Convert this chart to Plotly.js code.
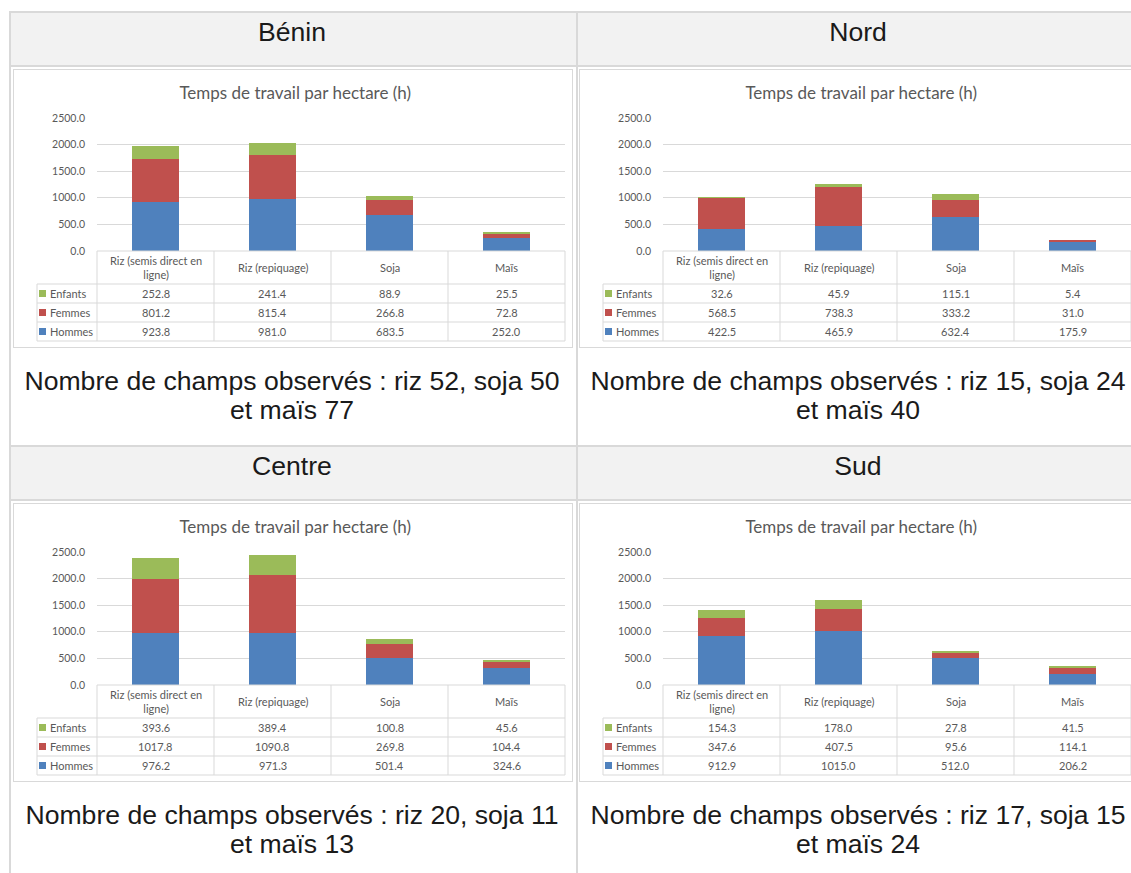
<!DOCTYPE html>
<html>
<head>
<meta charset="utf-8">
<script src="https://cdn.plot.ly/plotly-3.0.1.min.js"></script>
<style>
  html, body { margin:0; padding:0; background:#fff; }
  body { width:1131px; height:873px; overflow:hidden; position:relative; font-family:"Liberation Sans", Arial, sans-serif; }
  .ln { position:absolute; background:#d9d9d9; }
  .hdr { position:absolute; background:#f2f2f2; }
  .txt { position:absolute; text-align:center; color:#1a1a1a; font-size:26.6px; white-space:nowrap; transform:translateX(-50%); }
  .chart { position:absolute; width:560px; height:279px; box-sizing:border-box; border:1px solid #d9d9d9; background:#fff; }
</style>
</head>
<body>
<div class="hdr" style="left:11px;top:13px;width:1120px;height:52px"></div>
<div class="hdr" style="left:11px;top:447px;width:1120px;height:52px"></div>

<div class="ln" style="left:9px;top:11px;width:1122px;height:2px"></div>
<div class="ln" style="left:9px;top:11px;width:2px;height:862px"></div>
<div class="ln" style="left:576px;top:11px;width:2px;height:862px"></div>
<div class="ln" style="left:9px;top:65px;width:1122px;height:2px"></div>
<div class="ln" style="left:9px;top:445px;width:1122px;height:2px"></div>
<div class="ln" style="left:9px;top:499px;width:1122px;height:2px"></div>

<div class="txt" style="left:292px;top:17px;line-height:30px">Bénin</div>
<div class="txt" style="left:858px;top:17px;line-height:30px">Nord</div>
<div class="txt" style="left:292px;top:451px;line-height:30px">Centre</div>
<div class="txt" style="left:858px;top:451px;line-height:30px">Sud</div>

<div class="txt" style="left:292px;top:367px;line-height:29px">Nombre de champs observés : riz 52, soja 50<br>et maïs 77</div>
<div class="txt" style="left:858px;top:367px;line-height:29px">Nombre de champs observés : riz 15, soja 24<br>et maïs 40</div>
<div class="txt" style="left:292px;top:801px;line-height:29px">Nombre de champs observés : riz 20, soja 11<br>et maïs 13</div>
<div class="txt" style="left:858px;top:801px;line-height:29px">Nombre de champs observés : riz 17, soja 15<br>et maïs 24</div>

<div id="c_benin" class="chart" style="left:13px;top:69px"></div>
<div id="c_nord" class="chart" style="left:579px;top:69px"></div>
<div id="c_centre" class="chart" style="left:13px;top:503px"></div>
<div id="c_sud" class="chart" style="left:579px;top:503px"></div>

<script>
// ---- Data ----
const chartTitle = "Temps de travail par hectare (h)";
const categories = ["Riz (semis direct en ligne)", "Riz (repiquage)", "Soja", "Maïs"];
const categoryLabels = ["Riz (semis direct en<br>ligne)", "Riz (repiquage)", "Soja", "Maïs"];
const seriesNames = ["Hommes", "Femmes", "Enfants"];
const seriesColors = ["#4f81bd", "#c0504d", "#9bbb59"];
const yTicks = [0, 500, 1000, 1500, 2000, 2500];

const beninHommes = [923.8, 981.0, 683.5, 252.0];
const beninFemmes = [801.2, 815.4, 266.8, 72.8];
const beninEnfants = [252.8, 241.4, 88.9, 25.5];

const nordHommes = [422.5, 465.9, 632.4, 175.9];
const nordFemmes = [568.5, 738.3, 333.2, 31.0];
const nordEnfants = [32.6, 45.9, 115.1, 5.4];

const centreHommes = [976.2, 971.3, 501.4, 324.6];
const centreFemmes = [1017.8, 1090.8, 269.8, 104.4];
const centreEnfants = [393.6, 389.4, 100.8, 45.6];

const sudHommes = [912.9, 1015.0, 512.0, 206.2];
const sudFemmes = [347.6, 407.5, 95.6, 114.1];
const sudEnfants = [154.3, 178.0, 27.8, 41.5];

// ---- Drawing ----
const W = 560, H = 279;
const M = {l:84, r:8, t:49, b:97};
const PW = W - M.l - M.r;   // 468
const PH = H - M.t - M.b;   // 133
const FONT = "Lato, 'Open Sans', sans-serif";
const GRAY = "#595959";
const LINE = "#d9d9d9";

function py(d) { return -d / PH; }          // px below plot bottom -> paper y
function px(d) { return d / PW; }           // px from plot left -> paper x

function drawChart(id, hommes, femmes, enfants) {
  const series = [hommes, femmes, enfants];
  const traces = series.map((vals, i) => ({
    type: "bar", x: categories, y: vals, name: seriesNames[i],
    marker: {color: seriesColors[i], line: {width: 0}},
    hoverinfo: "skip"
  }));

  const hdrH = 33, rowH = 19;
  const rowTops = [hdrH, hdrH + rowH, hdrH + 2*rowH, hdrH + 3*rowH];
  const legLeft = px(-60);
  const shapes = [];
  const L = (x0, y0, x1, y1) => shapes.push({type:"line", xref:"paper", yref:"paper",
      x0, y0, x1, y1, line:{color:LINE, width:1}});
  L(0, py(0), 1, py(0));
  rowTops.forEach(d => L(legLeft, py(d), 1, py(d)));
  L(legLeft, py(hdrH), legLeft, py(rowTops[3]));
  for (let k = 0; k <= 4; k++) L(k/4, py(0), k/4, py(rowTops[3]));

  const ann = [];
  categoryLabels.forEach((lab, j) => ann.push({
    xref:"x", yref:"paper", x: j, y: py(hdrH/2), text: lab, showarrow:false,
    xanchor:"center", yanchor:"middle", font:{family:FONT, size:11, color:GRAY}
  }));
  const order = [2, 1, 0];
  order.forEach((si, r) => {
    const yc = py(rowTops[r] + rowH/2);
    shapes.push({type:"rect", xref:"paper", yref:"paper",
      x0: px(-58), x1: px(-51), y0: yc - 3.5/PH, y1: yc + 3.5/PH,
      fillcolor: seriesColors[si], line:{width:0}});
    ann.push({xref:"paper", yref:"paper", x: px(-49), y: yc, text: seriesNames[si],
      showarrow:false, xanchor:"left", yanchor:"middle",
      font:{family:FONT, size:11, color:GRAY}});
    series[si].forEach((v, j) => ann.push({
      xref:"x", yref:"paper", x: j, y: yc, text: v.toFixed(1), showarrow:false,
      xanchor:"center", yanchor:"middle", font:{family:FONT, size:11, color:GRAY}
    }));
  });

  const layout = {
    width: W - 2, height: H - 2,
    margin: {l:M.l - 1, r:M.r - 1, t:M.t - 1, b:M.b - 1, pad:0},
    paper_bgcolor: "rgba(0,0,0,0)", plot_bgcolor: "rgba(0,0,0,0)",
    barmode: "stack", bargap: 0.6, showlegend: false,
    title: {text: chartTitle, x: 0.504, xref:"container", xanchor:"center",
            y: 1 - 23/H, yref:"container", yanchor:"middle",
            font:{family:FONT, size:17, color:GRAY}},
    xaxis: {type:"category", range:[-0.5, 3.5], showticklabels:false, showgrid:false,
            zeroline:false, showline:false, ticks:"", fixedrange:true},
    yaxis: {range:[0, 2500], tickvals: yTicks, tickformat: ".1f", showgrid:true,
            gridcolor: LINE, gridwidth:1, zeroline:false, showline:false, ticks:"",
            ticklabelstandoff: 11, tickfont:{family:FONT, size:10.5, color:GRAY}, fixedrange:true},
    shapes: shapes, annotations: ann
  };
  Plotly.newPlot(id, traces, layout, {staticPlot:true, displayModeBar:false});
}

drawChart("c_benin", beninHommes, beninFemmes, beninEnfants);
drawChart("c_nord", nordHommes, nordFemmes, nordEnfants);
drawChart("c_centre", centreHommes, centreFemmes, centreEnfants);
drawChart("c_sud", sudHommes, sudFemmes, sudEnfants);
</script>
</body>
</html>
